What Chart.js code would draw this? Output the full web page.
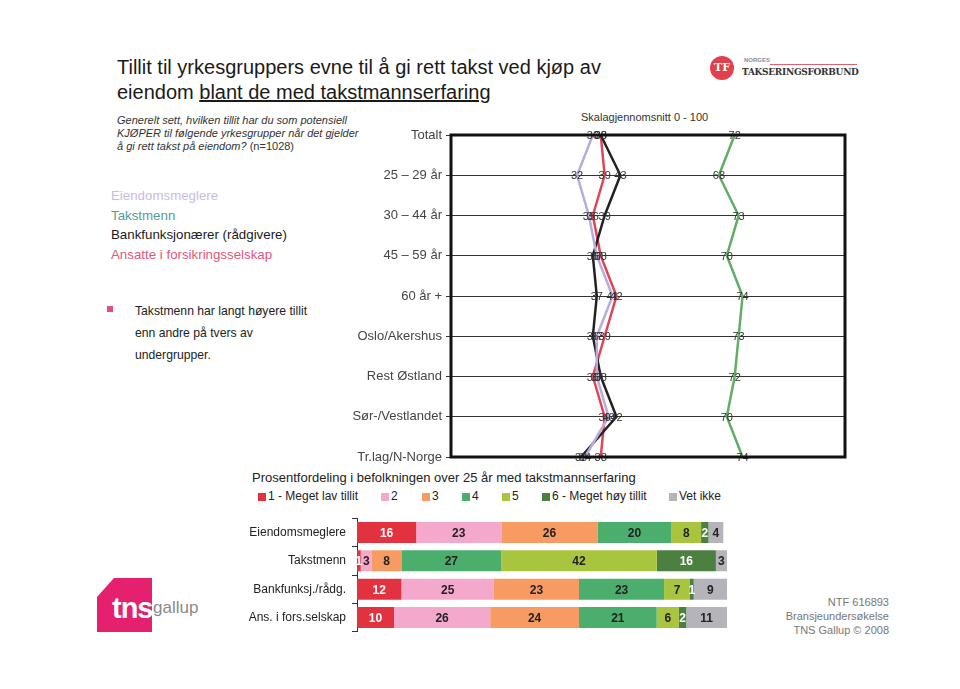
<!DOCTYPE html>
<html>
<head>
<meta charset="utf-8">
<script src="https://cdn.jsdelivr.net/npm/chart.js@4/dist/chart.umd.min.js"></script>
<style>
  body { margin: 0; background: #fff; font-family: "Liberation Sans", Arial, sans-serif; }
  #page { position: relative; width: 960px; height: 689px; overflow: hidden; background: #fff; }
  .t { position: absolute; white-space: nowrap; color: #222; }
  canvas { position: absolute; }
  .sq { position: absolute; width: 8px; height: 8px; }
</style>
</head>
<body>
<div id="page">
  <div class="t" style="left:117px;top:55px;font-size:20px;line-height:25px;color:#1a1a1a">Tillit til yrkesgruppers evne til å gi rett takst ved kjøp av<br>eiendom <span style="text-decoration:underline">blant de med takstmannserfaring</span></div>

  <div class="t" style="left:117px;top:114px;font-size:11px;line-height:13px;font-style:italic;color:#333">Generelt sett, hvilken tillit har du som potensiell<br>KJØPER til følgende yrkesgrupper når det gjelder<br>å gi rett takst på eiendom? <span style="font-style:normal">(n=1028)</span></div>

  <div class="t" style="left:111px;top:186px;font-size:13.3px;line-height:19.5px">
    <span style="color:#c9bce0">Eiendomsmeglere</span><br>
    <span style="color:#4f9e9a">Takstmenn</span><br>
    <span style="color:#1a1a1a">Bankfunksjonærer (rådgivere)</span><br>
    <span style="color:#e2577a">Ansatte i forsikringsselskap</span>
  </div>

  <div class="sq" style="left:107px;top:306px;width:6px;height:6px;background:#e2507e"></div>
  <div class="t" style="left:135px;top:300px;font-size:12.2px;line-height:22px;color:#222">Takstmenn har langt høyere tillit<br>enn andre på tvers av<br>undergrupper.</div>

  <div class="t" style="left:581px;top:111px;font-size:11px;color:#333">Skalagjennomsnitt 0 - 100</div>
  <canvas id="lineChart" width="560" height="360" style="left:300px;top:110px"></canvas>

  <div class="t" style="left:252px;top:470px;font-size:13px;color:#222">Prosentfordeling i befolkningen over 25 år med takstmannserfaring</div>
  <div id="barLegend"></div>
  <canvas id="barChart" width="500" height="140" style="left:240px;top:505px"></canvas>

  <!-- NTF logo -->
  <div style="position:absolute;left:710px;top:56px;width:24px;height:24px;border-radius:50%;background:#e2404a"></div>
  <div class="t" style="left:714px;top:61px;font-size:11px;font-weight:bold;color:#fff;font-family:'DejaVu Serif',serif">TF</div>
  <div class="t" style="left:744px;top:57px;font-size:6px;color:#8a8aa0;font-weight:bold">NORGES</div>
  <div style="position:absolute;left:770px;top:64px;width:87px;height:1px;background:#e06070"></div>
  <div class="t" style="left:742px;top:67px;font-size:9px;font-weight:bold;color:#333;font-family:'DejaVu Serif',serif;letter-spacing:-0.3px">TAKSERINGSFORBUND</div>

  <!-- tns gallup logo -->
  <div style="position:absolute;left:97px;top:578px;width:55px;height:54px;background:#e5206e;clip-path:polygon(17px 0,100% 0,100% 100%,0 100%,0 19px)"></div>
  <div class="t" style="left:112px;top:592px;font-size:29px;font-weight:bold;color:#fff;letter-spacing:-1px">tns</div>
  <div class="t" style="left:153px;top:598px;font-size:17px;color:#8a8a8a">gallup</div>

  <div class="t" style="left:760px;top:595px;width:129px;text-align:right;font-size:11px;line-height:14px;color:#777">NTF 616893<br>Bransjeundersøkelse<br>TNS Gallup © 2008</div>
</div>

<script>
// line chart: skalagjennomsnitt 0-100
const groups = ["Totalt", "25 – 29 år", "30 – 44 år", "45 – 59 år", "60 år +",
  "Oslo/Akershus", "Rest Østland", "Sør-/Vestlandet", "Tr.lag/N-Norge"];
const meglere  = [36, 32, 35, 37, 41, 37, 37, 40, 34];
const takst    = [72, 68, 73, 70, 74, 73, 72, 70, 74];
const bank     = [38, 43, 39, 36, 37, 36, 38, 42, 33];
const forsikr  = [38, 39, 36, 38, 42, 39, 36, 39, 38];

// stacked bars: prosentfordeling
const yrker = ["Eiendomsmeglere", "Takstmenn", "Bankfunksj./rådg.", "Ans. i fors.selskap"];
const scaleLabels = ["1 - Meget lav tillit", "2", "3", "4", "5", "6 - Meget høy tillit", "Vet ikke"];
const s1 = [16, 1, 12, 10];
const s2 = [23, 3, 25, 26];
const s3 = [26, 8, 23, 24];
const s4 = [20, 27, 23, 21];
const s5 = [8, 42, 7, 6];
const s6 = [2, 16, 1, 2];
const sVet = [4, 3, 9, 11];

const barColors = ["#e2323f", "#f4a8cb", "#f79b62", "#4cae6c", "#a9c43e", "#4b8040", "#b4b4ba"];
const whiteText = [true, false, false, false, false, true, false];

const frame = {
  id: "frame",
  afterDraw(chart) {
    const a = chart.chartArea, ctx = chart.ctx;
    ctx.save();
    ctx.strokeStyle = "#111";
    ctx.lineWidth = 3;
    ctx.strokeRect(a.left, a.top, a.right - a.left, a.bottom - a.top);
    ctx.restore();
  }
};

const pointLabels = {
  id: "pointLabels",
  afterDatasetsDraw(chart) {
    const ctx = chart.ctx;
    ctx.save();
    ctx.font = "11px 'Liberation Sans', Arial";
    ctx.fillStyle = "#333";
    ctx.textAlign = "center";
    ctx.textBaseline = "middle";
    chart.data.datasets.forEach((ds, i) => {
      chart.getDatasetMeta(i).data.forEach((pt, j) => {
        ctx.fillText(ds.data[j], pt.x, pt.y + 1);
      });
    });
    ctx.restore();
  }
};

new Chart(document.getElementById("lineChart"), {
  type: "line",
  data: {
    labels: groups,
    datasets: [
      { label: "Eiendomsmeglere", data: meglere, borderColor: "#b9abdc" },
      { label: "Takstmenn", data: takst, borderColor: "#62ad66" },
      { label: "Bankfunksjonærer (rådgivere)", data: bank, borderColor: "#222" },
      { label: "Ansatte i forsikringsselskap", data: forsikr, borderColor: "#e14555" }
    ]
  },
  options: {
    indexAxis: "y",
    responsive: false,
    animation: false,
    layout: { padding: { top: 25, right: 15, bottom: 13 } },
    elements: { point: { radius: 0 }, line: { borderWidth: 2.5, tension: 0 } },
    plugins: { legend: { display: false }, tooltip: { enabled: false } },
    scales: {
      x: { type: "linear", min: 0, max: 100, display: false },
      y: {
        type: "category",
        offset: false,
        afterFit(scale) { scale.width = 151; },
        grid: { color: "#333", lineWidth: 1, tickLength: 5 },
        border: { display: false },
        ticks: { color: "#444", padding: 4, font: { size: 13, family: "'Liberation Sans', Arial" } }
      }
    }
  },
  plugins: [pointLabels, frame]
});

const barLabels = {
  id: "barLabels",
  afterDatasetsDraw(chart) {
    const ctx = chart.ctx;
    ctx.save();
    ctx.font = "bold 12px 'Liberation Sans', Arial";
    ctx.textAlign = "center";
    ctx.textBaseline = "middle";
    chart.data.datasets.forEach((ds, i) => {
      ctx.fillStyle = whiteText[i] ? "#fff" : "#222";
      chart.getDatasetMeta(i).data.forEach((bar, j) => {
        ctx.fillText(ds.data[j], (bar.x + bar.base) / 2, bar.y + 1);
      });
    });
    ctx.restore();
  }
};

const series = [s1, s2, s3, s4, s5, s6, sVet];
new Chart(document.getElementById("barChart"), {
  type: "bar",
  data: {
    labels: yrker,
    datasets: series.map((d, i) => ({
      label: scaleLabels[i], data: d, backgroundColor: barColors[i],
      categoryPercentage: 1, barPercentage: 0.74
    }))
  },
  options: {
    indexAxis: "y",
    responsive: false,
    animation: false,
    layout: { padding: { top: 8, right: 13, bottom: 12 } },
    plugins: { legend: { display: false }, tooltip: { enabled: false } },
    scales: {
      x: { stacked: true, min: 0, max: 100, display: false },
      y: {
        stacked: true,
        afterFit(scale) { scale.width = 117; },
        grid: { drawOnChartArea: false, tickLength: 5, color: "#333" },
        border: { display: true, color: "#333", width: 1 },
        ticks: { color: "#222", padding: 6, font: { size: 12, family: "'Liberation Sans', Arial" } }
      }
    }
  },
  plugins: [barLabels]
});

// legend for bar chart
const legendX = [258, 381, 422, 462, 502, 542, 669];
const leg = document.getElementById("barLegend");
scaleLabels.forEach((txt, i) => {
  const sq = document.createElement("div");
  sq.className = "sq";
  sq.style.left = legendX[i] + "px";
  sq.style.top = "493px";
  sq.style.background = barColors[i];
  leg.appendChild(sq);
  const t = document.createElement("div");
  t.className = "t";
  t.style.cssText = "left:" + (legendX[i] + 10) + "px;top:489px;font-size:12px;color:#222";
  t.textContent = txt;
  leg.appendChild(t);
});
</script>
</body>
</html>
